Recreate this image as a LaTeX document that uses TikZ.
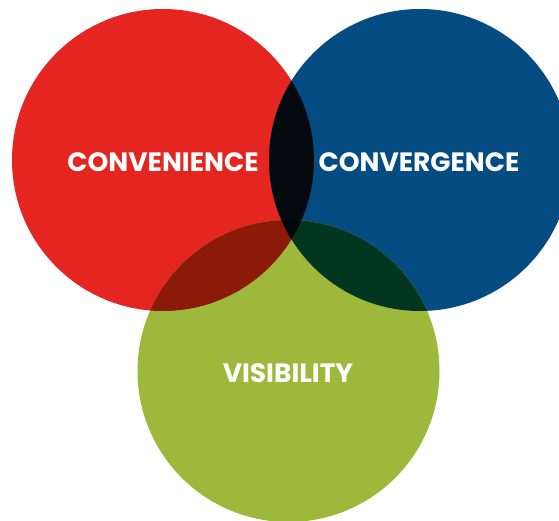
\documentclass[tikz,border=0pt]{standalone}
\usepackage{fontspec}
\setmainfont{Poppins}
\definecolor{cred}{HTML}{E52520}
\definecolor{cblue}{HTML}{054C82}
\definecolor{cgreen}{HTML}{9DB83A}
\definecolor{crb}{HTML}{050A0E}
\definecolor{crg}{HTML}{8B1A08}
\definecolor{cbg}{HTML}{023620}
\definecolor{crbg}{HTML}{020806}
\begin{document}
\begin{tikzpicture}[x=1pt,y=-1pt,
  lab/.style={text=white,font=\fontsize{26.5}{30}\selectfont\bfseries,inner sep=0pt}]
\useasboundingbox (0,0) rectangle (559,521);
\clip (0,0) rectangle (559,521);
\coordinate (r) at (163,160);
\coordinate (b) at (420,160);
\coordinate (g) at (288.5,371);
\fill[cred] (r) circle (151pt);
\fill[cblue] (b) circle (151pt);
\fill[cgreen] (g) circle (151pt);
\begin{scope}\clip (r) circle (151pt); \fill[crb] (b) circle (151pt);\end{scope}
\begin{scope}\clip (r) circle (151pt); \fill[crg] (g) circle (151pt);\end{scope}
\begin{scope}\clip (b) circle (151pt); \fill[cbg] (g) circle (151pt);\end{scope}
\begin{scope}\clip (r) circle (151pt); \clip (b) circle (151pt); \fill[crbg] (g) circle (151pt);\end{scope}
\node[lab] (t1) at (163,162) {CONVENIENCE};
\node[lab] (t2) at (419,162) {CONVERGENCE};
\node[lab] (t3) at (288,373) {VISIBILITY};
\end{tikzpicture}
\end{document}
